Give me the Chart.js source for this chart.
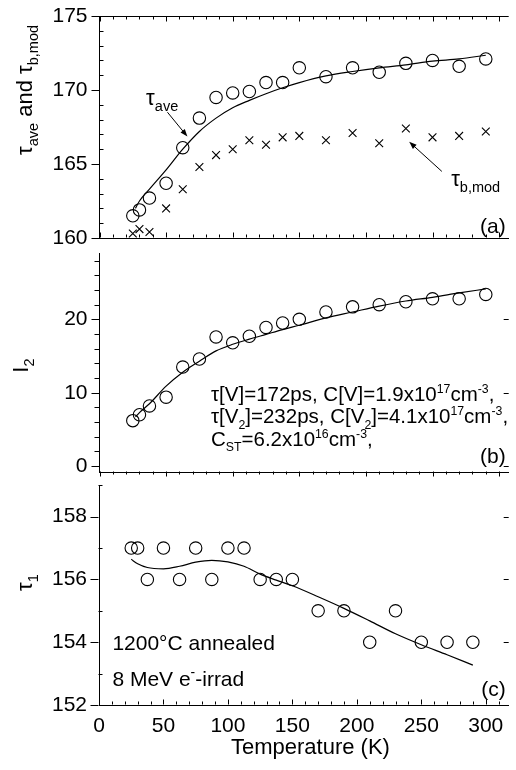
<!DOCTYPE html>
<html>
<head>
<meta charset="utf-8">
<script src="https://cdn.jsdelivr.net/npm/chart.js@4.4.0/dist/chart.umd.min.js"></script>
<style>
  html, body { margin: 0; padding: 0; background: #fff; }
  #wrap { position: relative; width: 516px; height: 770px; overflow: hidden; }
  .pane { position: absolute; left: 0; width: 516px; }
</style>
</head>
<body>
<div id="wrap">
  <div class="pane" style="top:0;height:250px"><canvas id="pa"></canvas></div>
  <div class="pane" style="top:246px;height:236px"><canvas id="pb"></canvas></div>
  <div class="pane" style="top:478px;height:292px"><canvas id="pc"></canvas></div>
</div>
<script>
// measured temperatures (K)
const temps = [25, 30, 37.5, 50, 62.5, 75, 87.5, 100, 112.5, 125, 137.5, 150, 170, 190, 210, 230, 250, 270, 290];

// (a) average lifetime and modified bulk lifetime (ps)
const tauAve  = [161.5, 161.9, 162.7, 163.7, 166.1, 168.1, 169.5, 169.8, 169.9, 170.5, 170.5, 171.5, 170.9, 171.5, 171.2, 171.8, 172.0, 171.6, 172.1];
const tauBmod = [160.3, 160.6, 160.4, 162.0, 163.3, 164.8, 165.6, 166.0, 166.6, 166.3, 166.8, 166.9, 166.6, 167.1, 166.4, 167.4, 166.8, 166.9, 167.2];
const fitTemps  = [27, 30, 37.5, 50, 62.5, 75, 87.5, 100, 112.5, 125, 137.5, 150, 170, 190, 210, 230, 250, 270, 290];
const tauAveFit = [162.0, 162.5, 163.3, 164.6, 166.0, 167.2, 168.1, 168.8, 169.3, 169.75, 170.15, 170.5, 170.95, 171.25, 171.5, 171.7, 171.95, 172.1, 172.35];

// (b) intensity I2 (%)
const i2    = [6.2, 7.0, 8.2, 9.4, 13.5, 14.6, 17.6, 16.8, 17.7, 18.9, 19.5, 20.0, 21.0, 21.7, 22.0, 22.4, 22.8, 22.8, 23.4];
const i2Fit = [6.7, 7.3, 8.5, 10.9, 12.8, 14.3, 15.7, 16.6, 17.3, 17.95, 18.6, 19.2, 20.2, 21.0, 21.8, 22.5, 23.0, 23.6, 24.15];

// (c) short lifetime tau1 (ps)
const tau1Temps = [25, 30, 37.5, 50, 62.5, 75, 87.5, 100, 112.5, 125, 137.5, 150, 170, 190, 210, 230, 250, 270, 290];
const tau1    = [157, 157, 156, 157, 156, 157, 156, 157, 157, 156, 156, 156, 155, 155, 154, 155, 154, 154, 154];
const tau1Fit = [156.64, 156.5, 156.38, 156.34, 156.42, 156.55, 156.61, 156.56, 156.42, 156.17, 155.98, 155.8, 155.45, 155.08, 154.68, 154.27, 153.92, 153.6, 153.27];

// tick labels
const xTickVals = [0, 50, 100, 150, 200, 250, 300];
const yTicksA = [160, 165, 170, 175];
const yTicksB = [0, 10, 20];
const yTicksC = [152, 154, 156, 158];

const FONT = '"Liberation Sans", Arial, Helvetica, sans-serif';

function pts(xs, ys) {
  return xs.map((x, i) => ({ x: x, y: ys[i] }));
}

function circles(xs, ys) {
  return { data: pts(xs, ys), showLine: false, pointStyle: 'circle', pointRadius: 6.2,
           borderColor: '#000', backgroundColor: 'rgba(0,0,0,0)', borderWidth: 1.1, clip: false };
}

function fitLine(xs, ys) {
  return { data: pts(xs, ys), showLine: true, pointRadius: 0, borderColor: '#000',
           borderWidth: 1.2, cubicInterpolationMode: 'monotone', fill: false };
}

// text with sub/superscripts: parts = [[text, ''|'b'|'p'], ...]
function rich(ctx, x, y, parts, size, align, small) {
  const k = small || 0.66;
  const fontOf = t => (t ? size * k : size) + 'px ' + FONT;
  let w = 0;
  parts.forEach(p => { ctx.font = fontOf(p[1]); w += ctx.measureText(p[0]).width; });
  let cx = x;
  if (align === 'center') cx = x - w / 2;
  if (align === 'right') cx = x - w;
  ctx.textAlign = 'left';
  ctx.textBaseline = 'alphabetic';
  parts.forEach(p => {
    ctx.font = fontOf(p[1]);
    let dy = 0;
    if (p[1] === 'b') dy = size * 0.28;
    if (p[1] === 'p') dy = -size * 0.4;
    ctx.fillText(p[0], cx, y + dy);
    cx += ctx.measureText(p[0]).width;
  });
  return w;
}

function arrow(ctx, x1, y1, x2, y2) {
  const a = Math.atan2(y2 - y1, x2 - x1), L = 8, W = 0.35;
  ctx.beginPath();
  ctx.moveTo(x1, y1);
  ctx.lineTo(x2 - Math.cos(a) * 4, y2 - Math.sin(a) * 4);
  ctx.stroke();
  ctx.beginPath();
  ctx.moveTo(x2, y2);
  ctx.lineTo(x2 - L * Math.cos(a - W), y2 - L * Math.sin(a - W));
  ctx.lineTo(x2 - L * Math.cos(a + W), y2 - L * Math.sin(a + W));
  ctx.closePath();
  ctx.fill();
}

function framePlugin(o) {
  return {
    id: 'frame',
    afterDraw(chart) {
      const { ctx, chartArea: a, scales: { x, y } } = chart;
      ctx.save();
      ctx.strokeStyle = '#000';
      ctx.fillStyle = '#000';
      ctx.lineWidth = 1;
      ctx.beginPath();
      const L = Math.round(a.left) - 0.5, B = Math.round(a.bottom) - 0.5, T = Math.round(a.top) + 0.5;
      // y ticks
      for (let v = Math.ceil(y.min / o.yMinor) * o.yMinor; v <= y.max + 1e-9; v += o.yMinor) {
        const py = Math.round(y.getPixelForValue(v)) + 0.5;
        const major = o.yTicks.includes(v);
        if (major) {
          ctx.moveTo(L - 8, py); ctx.lineTo(L, py);
          if (o.rightTicks) { ctx.moveTo(a.right - 5, py); ctx.lineTo(a.right, py); }
        } else if (o.minorOut) {
          ctx.moveTo(L - 5, py); ctx.lineTo(L, py);
        } else {
          ctx.moveTo(L, py); ctx.lineTo(L + 4, py);
        }
      }
      // x ticks
      for (let v = 0; v <= x.max + 1e-9; v += 10) {
        const px = Math.round(x.getPixelForValue(v)) + 0.5;
        const len = v % 50 === 0 ? 5 : 3;
        if (o.xOut) { ctx.moveTo(px, B); ctx.lineTo(px, B + len); }
        else { ctx.moveTo(px, B); ctx.lineTo(px, B - len); }
        if (o.topBorder) { ctx.moveTo(px, T); ctx.lineTo(px, T + len); }
      }
      if (o.topBorder) { ctx.moveTo(a.left, T); ctx.lineTo(a.right, T); }
      ctx.stroke();

      // y title, rotated
      ctx.save();
      ctx.translate(o.titleX, y.getPixelForValue(o.titleV));
      ctx.rotate(-Math.PI / 2);
      rich(ctx, 0, o.titleSize * 0.36, o.title, o.titleSize, 'center');
      ctx.restore();

      // panel letter
      ctx.font = '21px ' + FONT;
      ctx.textAlign = 'right';
      ctx.textBaseline = 'alphabetic';
      ctx.fillText(o.letter, a.right - 3, a.bottom - o.letterUp);

      if (o.extra) o.extra(ctx, a, x, y);
      ctx.restore();
    }
  };
}

function panel(id, o) {
  return new Chart(document.getElementById(id), {
    type: 'scatter',
    data: { datasets: o.datasets },
    options: {
      responsive: true,
      maintainAspectRatio: false,
      animation: false,
      layout: { padding: { top: o.padTop, left: 0, right: 0, bottom: 0 } },
      plugins: { legend: { display: false }, tooltip: { enabled: false } },
      scales: {
        x: {
          type: 'linear', min: 0, max: o.xMax,
          grid: { display: false, drawTicks: false },
          border: { display: true, color: '#000', width: 1 },
          ticks: { display: !!o.xLabels, color: '#000', padding: 11,
                   font: { family: FONT, size: 21, lineHeight: 1 } },
          afterBuildTicks: s => { s.ticks = xTickVals.map(v => ({ value: v })); },
          afterFit: s => { s.height = o.xHeight; s.paddingLeft = 0; s.paddingRight = 0; }
        },
        y: {
          type: 'linear', min: o.yMin, max: o.yMax,
          grid: { display: false, drawTicks: false },
          border: { display: true, color: '#000', width: 1 },
          ticks: { color: '#000', padding: 12, font: { family: FONT, size: 21, lineHeight: 1 } },
          afterBuildTicks: s => { s.ticks = o.yTicks.map(v => ({ value: v })); },
          afterFit: s => { s.width = o.yWidth; s.paddingTop = 0; s.paddingBottom = 0; }
        }
      }
    },
    plugins: [framePlugin(o)]
  });
}

// (a)
panel('pa', {
  padTop: 16, xHeight: 12, yWidth: 99.5, xMax: 307.2, yMin: 160, yMax: 175,
  yTicks: yTicksA, yMinor: 1, topBorder: true,
  title: [['τ', ''], ['ave', 'b'], [' and τ', ''], ['b,mod', 'b']], titleSize: 22, titleX: 24, titleV: 170,
  letter: '(a)', letterUp: 5,
  datasets: [
    fitLine(fitTemps, tauAveFit),
    circles(temps, tauAve),
    { data: pts(temps, tauBmod), showLine: false, pointStyle: 'crossRot', pointRadius: 5.5,
      borderColor: '#000', borderWidth: 1.1, clip: false }
  ],
  extra(ctx, a, x, y) {
    rich(ctx, x.getPixelForValue(35), y.getPixelForValue(169.0), [['τ', ''], ['ave', 'b']], 22, 'left');
    arrow(ctx, x.getPixelForValue(51), y.getPixelForValue(168.5), x.getPixelForValue(66), y.getPixelForValue(166.85));
    rich(ctx, x.getPixelForValue(264), y.getPixelForValue(163.5), [['τ', ''], ['b,mod', 'b']], 22, 'left');
    arrow(ctx, x.getPixelForValue(257), y.getPixelForValue(164.5), x.getPixelForValue(232.5), y.getPixelForValue(166.5));
  }
});

// (b)
panel('pb', {
  padTop: 6, xHeight: 10, yWidth: 99.5, xMax: 307.2, yMin: -0.8, yMax: 29,
  yTicks: yTicksB, yMinor: 2, minorOut: true, xOut: true, rightTicks: true,
  title: [['I', ''], ['2', 'b']], titleSize: 22, titleX: 20, titleV: 13.7,
  letter: '(b)', letterUp: 9.5,
  datasets: [ fitLine(fitTemps, i2Fit), circles(temps, i2) ],
  extra(ctx, a, x, y) {
    const x0 = x.getPixelForValue(83.7), y0 = y.getPixelForValue(8.86), s = 20.5, dy = 22.3, k = 0.6;
    rich(ctx, x0, y0, [['τ[V]=172ps, C[V]=1.9x10', ''], ['17', 'p'], ['cm', ''], ['-3', 'p'], [',', '']], s, 'left', k);
    rich(ctx, x0, y0 + dy, [['τ[V', ''], ['2', 'b'], [']=232ps, C[V', ''], ['2', 'b'], [']=4.1x10', ''], ['17', 'p'], ['cm', ''], ['-3', 'p'], [',', '']], s, 'left', k);
    rich(ctx, x0, y0 + 2 * dy, [['C', ''], ['ST', 'b'], ['=6.2x10', ''], ['16', 'p'], ['cm', ''], ['-3', 'p'], [',', '']], s, 'left', k);
  }
});

// (c)
panel('pc', {
  padTop: 5, xHeight: 65, yWidth: 99, xMax: 317.8, yMin: 152, yMax: 159, xLabels: true,
  yTicks: yTicksC, yMinor: 1, rightTicks: true,
  title: [['τ', ''], ['1', 'b']], titleSize: 22, titleX: 24, titleV: 155.9,
  letter: '(c)', letterUp: 9,
  datasets: [ fitLine(tau1Temps, tau1Fit), circles(tau1Temps, tau1) ],
  extra(ctx, a, x, y) {
    const x0 = x.getPixelForValue(10.4);
    rich(ctx, x0, y.getPixelForValue(154) + 7.6, [['1200°C annealed', '']], 21, 'left');
    rich(ctx, x0, y.getPixelForValue(152.86) + 7.6, [['8 MeV e', ''], ['-', 'p'], ['-irrad', '']], 21, 'left');
    ctx.font = '22px ' + FONT;
    ctx.textAlign = 'center';
    ctx.textBaseline = 'middle';
    ctx.fillText('Temperature (K)', x.getPixelForValue(164), a.bottom + 43);
  }
});
</script>
</body>
</html>
